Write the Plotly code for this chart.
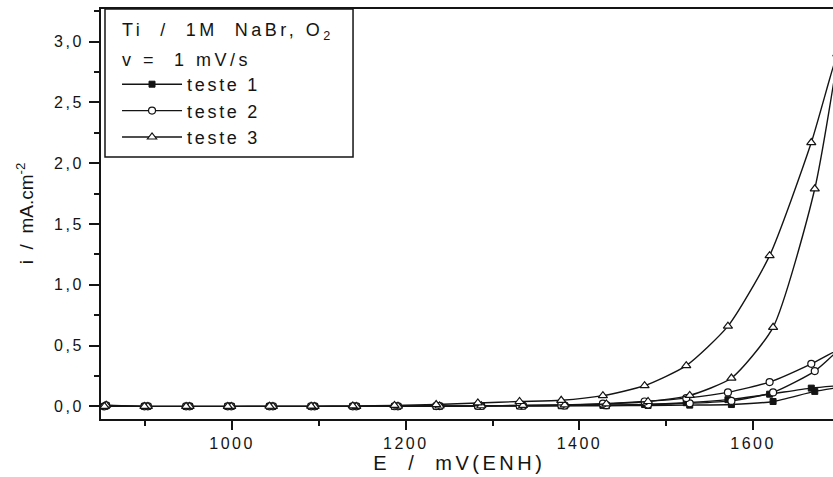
import plotly.graph_objects as go

# Potential (mV vs ENH): forward scan and reverse scan marker positions
E_fwd = [855, 903, 951, 999, 1047, 1095, 1143, 1191, 1239, 1287, 1335, 1383,
         1431, 1479, 1527, 1575, 1623, 1671]
E_rev = [1667, 1619, 1571, 1523, 1475, 1427, 1379, 1331, 1283, 1235, 1187,
         1139, 1091, 1043, 995, 947, 899, 853]
# turning point of each scan (just beyond the visible range)
E_vtx = [1719, 1697, 1697]
i_vtx = [0.18, 0.46, 2.9]

# Current density (mA/cm2)
t1_fwd = [0.005, 0.0, 0.0, 0.0, 0.0, 0.0, 0.0, 0.0, 0.001, 0.002, 0.003, 0.004,
          0.005, 0.007, 0.010, 0.015, 0.040, 0.123]
t1_rev = [0.15, 0.10, 0.055, 0.03, 0.015, 0.008, 0.005, 0.003, 0.002, 0.001,
          0.0, 0.0, 0.0, 0.0, 0.0, 0.0, 0.0, 0.0]
t2_fwd = [0.008, 0.0, 0.0, 0.0, 0.0, 0.0, 0.0, 0.0, 0.002, 0.003, 0.005, 0.007,
          0.010, 0.015, 0.025, 0.045, 0.115, 0.29]
t2_rev = [0.35, 0.20, 0.115, 0.068, 0.04, 0.022, 0.012, 0.007, 0.004, 0.002,
          0.001, 0.0, 0.0, 0.0, 0.0, 0.0, 0.0, 0.0]
t3_fwd = [0.01, 0.0, 0.0, 0.0, 0.0, 0.0, 0.0, 0.001, 0.003, 0.005, 0.008, 0.012,
          0.02, 0.04, 0.09, 0.233, 0.65, 1.79]
t3_rev = [2.17, 1.24, 0.66, 0.335, 0.17, 0.088, 0.05, 0.04, 0.028, 0.015, 0.008,
          0.004, 0.002, 0.001, 0.0, 0.0, 0.0, 0.0]

series_names = ["teste 1", "teste 2", "teste 3"]
x_ticks = [1000, 1200, 1400, 1600]
x_minor = [900, 1100, 1300, 1500]
legend_title = ["Ti  /  1M  NaBr, O<sub>2</sub>", "v =  1 mV/s"]

INK = "#141414"
FONT = "Arial, Liberation Sans, sans-serif"

fig = go.Figure()
styles = [
    dict(symbol="square", size=6, color=INK, line=dict(color=INK, width=1)),
    dict(symbol="circle", size=7, color="white", line=dict(color=INK, width=1.2)),
    dict(symbol="triangle-up", size=8, color="white", line=dict(color=INK, width=1.2)),
]
data = [(t1_fwd, t1_rev), (t2_fwd, t2_rev), (t3_fwd, t3_rev)]
for k, (name, (fw, rv), mk) in enumerate(zip(series_names, data, styles)):
    fig.add_trace(go.Scatter(
        x=E_fwd + [E_vtx[k]] + E_rev, y=fw + [i_vtx[k]] + rv, name=name,
        mode="lines+markers",
        line=dict(color=INK, width=1.4, shape="spline", smoothing=0.6),
        marker=mk,
    ))

fig.update_layout(
    width=833, height=477,
    margin=dict(l=101, r=0, t=9, b=58),
    plot_bgcolor="white", paper_bgcolor="white",
    separators=",.",
    font=dict(family=FONT, color=INK, size=16),
    showlegend=True,
    legend=dict(
        x=0.0219, y=0.861, xanchor="left", yanchor="top",
        borderwidth=0, bgcolor="rgba(0,0,0,0)",
        font=dict(size=18, family=FONT, color=INK),
        tracegroupgap=0, itemwidth=60,
    ),
    xaxis=dict(
        range=[849, 1692], tickvals=x_ticks, ticks="outside", ticklen=9,
        tickwidth=1.5, tickcolor=INK, showline=True, linewidth=2, linecolor=INK,
        mirror=True, showgrid=False, zeroline=False,
        minor=dict(tickvals=x_minor, ticks="outside", ticklen=5,
                   tickwidth=1.5, tickcolor=INK),
        tickfont=dict(size=16),
    ),
    yaxis=dict(
        range=[-0.104, 3.269], tick0=0, dtick=0.5, tickformat=".1f",
        ticks="outside", ticklen=10, tickwidth=1.5, tickcolor=INK,
        showline=True, linewidth=2, linecolor=INK, showgrid=False, zeroline=False,
        minor=dict(dtick=0.25, ticks="outside", ticklen=5, tickwidth=1.5,
                   tickcolor=INK),
        tickfont=dict(size=16), ticklabelstandoff=2,
    ),
    shapes=[
        dict(type="rect", xref="paper", yref="paper", x0=0.00546, x1=0.3443,
             y0=0.639, y1=1.0, line=dict(color=INK, width=1.5),
             fillcolor="white", layer="above"),
    ],
    annotations=[
        dict(text="E  /  mV(ENH)", xref="paper", yref="paper", x=0.4904, y=0,
             yshift=-44, xanchor="center", yanchor="middle", showarrow=False,
             font=dict(size=20, family=FONT, color=INK)),
        dict(text=legend_title[0], xref="paper", yref="paper", x=0.026, y=0.944,
             xanchor="left", yanchor="middle", align="left", showarrow=False,
             font=dict(size=18, family=FONT, color=INK)),
        dict(text=legend_title[1], xref="paper", yref="paper", x=0.026, y=0.876,
             xanchor="left", yanchor="middle", align="left", showarrow=False,
             font=dict(size=18, family=FONT, color=INK)),
        dict(text="i  /  mA.cm<sup>-2</sup>", xref="paper", yref="paper", x=0,
             xshift=-76, y=0.502, textangle=-90, xanchor="center",
             yanchor="middle", showarrow=False,
             font=dict(size=19, family=FONT, color=INK)),
    ],
)

spacing_css = (
    ".legendtext{letter-spacing:2.7px}"
    ".xtick text,.ytick text{letter-spacing:2.5px}"
    ".annotation[data-index='0'] text,.annotation[data-index='1'] text,"
    ".annotation[data-index='2'] text{letter-spacing:3.5px}"
)
post = (
    "var s=document.createElement('style');s.textContent=\"%s\";"
    "document.head.appendChild(s);"
    "document.querySelectorAll('.legend .scrollbox').forEach(function(e){"
    "e.removeAttribute('clip-path');});" % spacing_css
)

fig.write_html("out.html", post_script=post)
